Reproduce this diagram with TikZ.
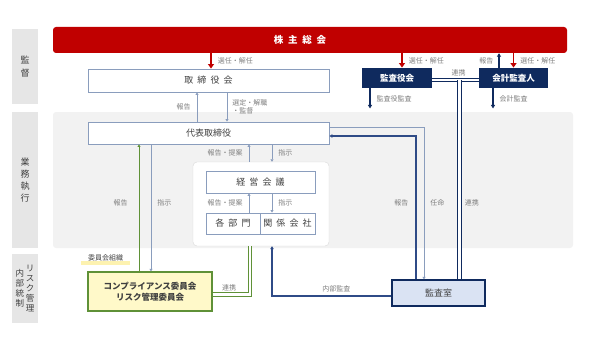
\documentclass[tikz,border=0pt]{standalone}
\usepackage{fontspec}
\setmainfont{Noto Sans CJK JP}
\usepackage{tikz}
\usetikzlibrary{arrows.meta,calc,positioning}
\definecolor{jred}{HTML}{C00000}
\definecolor{navy}{HTML}{0F2A5E}
\definecolor{repnavy}{HTML}{2F4B87}
\definecolor{bordblue}{HTML}{8A9DBD}
\definecolor{jgreen}{HTML}{5F9137}
\definecolor{lyel}{HTML}{FFF9C9}
\definecolor{hlyel}{HTML}{FDF2B0}
\definecolor{lblue}{HTML}{DAE3F3}
\definecolor{bargray}{HTML}{E6E6E6}
\definecolor{bggray}{HTML}{F2F2F2}
\definecolor{grpline}{HTML}{D9D9D9}
\definecolor{txtgray}{HTML}{404040}
\definecolor{labgray}{HTML}{7F7F7F}
\newcommand{\jsp}{\hspace{0.45em}}
\tikzset{box/.style={draw=bordblue,line width=0.9pt,fill=white,text=txtgray,inner sep=0pt,font=\fontsize{9}{11}\selectfont},
  navbox/.style={box,draw=none,fill=navy,text=white,font=\bfseries\fontsize{8.5}{10}\selectfont},
  banner/.style={fill=jred,rounded corners=3pt,text=white,inner sep=0pt,font=\bfseries\fontsize{9.5}{11}\selectfont},
  bar/.style={fill=bargray,minimum width=26pt,inner sep=0pt,align=center,text=txtgray},
  lab/.style={font=\fontsize{7}{8.5}\selectfont,text=labgray,inner sep=1pt},
  redarr/.style={draw=jred,line width=1.6pt,-{Triangle[length=4.5pt,width=6pt]}},
  navarr/.style={draw=navy,line width=1.1pt,-{Triangle[length=3.5pt,width=4pt]}},
  reparr/.style={draw=repnavy,line width=1.1pt,-{Triangle[length=3pt,width=3.5pt]}},
  thinarr/.style={draw=bordblue,line width=0.9pt,-{Triangle[length=2.5pt,width=3pt]}},
  grnarr/.style={draw=jgreen,line width=1pt,-{Triangle[length=2.5pt,width=3pt]}},
  dbl/.style={draw=navy,line width=0.9pt,double=white,double distance=2.4pt}}
\begin{document}
\begin{tikzpicture}[x=1pt,y=-1pt]
\useasboundingbox (0,0) rectangle (600,337);
\fill[bggray,rounded corners=3pt] (53,112) rectangle (573,248);
\node[bar,minimum height=75pt,font=\fontsize{9}{12.5}\selectfont] (kantoku) at (25,66.5) {監\\督};
\node[bar,minimum height=136pt,font=\fontsize{9}{12}\selectfont] (gyomu) at (25,180) {業\\務\\執\\行};
\node[bar,minimum height=69pt,font=\fontsize{8.5}{10}\selectfont] (naibu) at (25,288.5)
  {\parbox[c]{9pt}{\centering 内\\部\\統\\制}\hspace{1pt}\parbox[c]{9pt}{\centering リ\\ス\\ク\\管\\理}};
\node[banner,minimum width=514pt,minimum height=26pt] (gm) at (310,40) {\hspace{-20pt}株\enspace 主\enspace 総\enspace 会};
\node[box,minimum width=241pt,minimum height=23pt] (bod) at (208.5,80.5) {取\jsp 締\jsp 役\jsp 会};
\node[navbox,minimum width=70pt,minimum height=20pt] (kansa) at (397,78) {監査役会};
\node[navbox,minimum width=69pt,minimum height=20pt] (kaikei) at (513.5,78) {会計監査人};
\node[box,minimum width=241pt,minimum height=22pt] (ceo) at (208.5,133) {代表取締役};
\node[draw=grpline,fill=white,rounded corners=4pt,minimum width=136pt,minimum height=84pt] (grp) at (261,204) {};
\node[box,minimum width=109pt,minimum height=22pt] (keiei) at (260.5,182) {経\jsp 営\jsp 会\jsp 議};
\node[box,minimum width=54pt,minimum height=21pt] (bumon) at (233,223.5) {各\jsp 部\jsp 門};
\node[box,minimum width=55pt,minimum height=21pt] (kankei) at (287.5,223.5) {関\jsp 係\jsp 会\jsp 社};
\node[box,draw=jgreen,fill=lyel,line width=1.3pt,minimum width=124pt,minimum height=39pt,align=center,
  font=\bfseries\fontsize{8.5}{11}\selectfont] (comp) at (150,291.5) {コンプライアンス委員会\\リスク管理委員会};
\node[box,draw=navy,fill=lblue,line width=1.3pt,minimum width=93pt,minimum height=26pt] (room) at (438.5,293) {監査室};
\fill[hlyel] (81,261) rectangle (130,264.5);
\node[lab,text=txtgray] (iin) at (105.5,257.5) {委員会組織};
\draw[redarr] ([xshift=2.5pt]bod.north |- gm.south) -- node[lab,right=5pt]{選任・解任} ([xshift=2.5pt]bod.north);
\draw[redarr] ([xshift=5pt]kansa.north |- gm.south) -- node[lab,right=5pt]{選任・解任} ([xshift=5pt]kansa.north);
\draw[redarr] (kaikei.north |- gm.south) -- node[lab,right=5pt]{選任・解任} (kaikei.north);
\draw[navarr] ([xshift=-14.5pt]kaikei.north) -- node[lab,left=4pt]{報告} ([xshift=-14.5pt]kaikei.north |- gm.south);
\draw[navarr] ([xshift=-27pt]kansa.south) -- node[lab,right=5pt]{監査役監査} ++(0,20);
\draw[navarr] ([xshift=-20.5pt]kaikei.south) -- node[lab,right=5pt]{会計監査} ++(0,20);
\draw[dbl] ([yshift=-2pt]kansa.east) -- node[lab,above=2pt,xshift=3pt]{連携} ([yshift=-2pt]kaikei.west);
\coordinate (tj) at (459.5,80);
\draw[dbl] (tj) -- node[lab,right=4pt,pos=0.615]{連携} (tj |- room.north);
\draw[thinarr] ([xshift=-11.5pt]ceo.north) -- node[lab,left=5pt]{報告} ([xshift=-11.5pt]ceo.north |- bod.south);
\draw[thinarr] ([xshift=18.5pt]bod.south) -- node[lab,right=4pt,align=left]{選定・解職\\・監督} ([xshift=18.5pt]bod.south |- ceo.north);
\draw[thinarr] ([xshift=-12pt]grp.north) -- node[lab,left=5pt]{報告・提案} ([xshift=-12pt]grp.north |- ceo.south);
\draw[thinarr] ([xshift=11pt]grp.north |- ceo.south) -- node[lab,right=5pt]{指示} ([xshift=11pt]grp.north);
\draw[thinarr] ([xshift=16pt]bumon.north) -- node[lab,left=5pt]{報告・提案} ([xshift=16pt]bumon.north |- keiei.south);
\draw[thinarr] ([xshift=-15.5pt]kankei.north |- keiei.south) -- node[lab,right=5pt]{指示} ([xshift=-15.5pt]kankei.north);
\draw[grnarr] ([xshift=-11pt]comp.north) -- node[lab,left=10pt,pos=0.54]{報告} ([xshift=-11pt]comp.north |- ceo.south);
\draw[thinarr] ([xshift=1pt]comp.north |- ceo.south) -- node[lab,right=5pt,pos=0.46]{指示} ([xshift=1pt]comp.north);
\draw[reparr] ([xshift=-22.5pt]room.north) |- node[lab,left=6pt,pos=0.267]{報告} ([yshift=-3pt]ceo.east);
\draw[thinarr] ([yshift=6pt]ceo.east) -| node[lab,right=5pt,pos=0.75]{任命} ([xshift=-14.5pt]room.north);
\draw[reparr] ([yshift=-3pt]room.west) -| node[lab,above=2pt,pos=0.23]{内部監査} ([xshift=11pt]grp.south);
\draw[dbl,draw=jgreen] ([yshift=-3pt]comp.east) -| node[lab,above=2pt,pos=0.22]{連携} ([xshift=-11pt]grp.south);
\end{tikzpicture}
\end{document}
